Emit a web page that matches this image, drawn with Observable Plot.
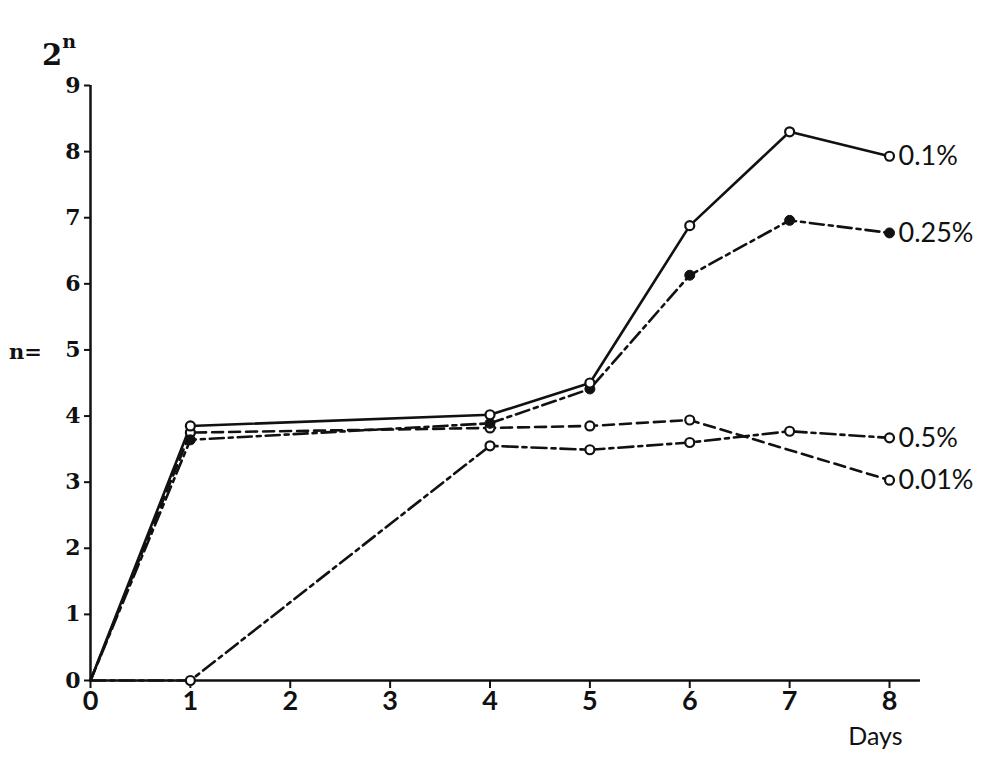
<!DOCTYPE html>
<html><head><meta charset="utf-8">
<script src="https://cdn.jsdelivr.net/npm/d3@7"></script>
<script src="https://cdn.jsdelivr.net/npm/@observablehq/plot@0.6"></script>
<style>body{margin:0;background:#fff}#c{position:absolute;left:0;top:0}</style>
</head><body><div id="c"></div>
<script>
const xTicks = [0,1,2,3,4,5,6,7,8];
const yTicks = [0,1,2,3,4,5,6,7,8,9];
const days01 = [0,1,4,5,6,7,8];
const vals01 = [0,3.85,4.02,4.5,6.88,8.3,7.93];
const days025 = [0,1,4,5,6,7,8];
const vals025 = [0,3.64,3.89,4.41,6.13,6.96,6.77];
const days001 = [0,1,4,5,6,8];
const vals001 = [0,3.75,3.82,3.85,3.94,3.03];
const days05 = [0,1,4,5,6,7,8];
const vals05 = [0,0,3.55,3.49,3.6,3.77,3.67];

const mk = (name, ds, vs) => ds.map((d,i)=>({series:name, day:d, n:vs[i]}));
const s01 = mk("0.1%", days01, vals01);
const s025 = mk("0.25%", days025, vals025);
const s001 = mk("0.01%", days001, vals001);
const s05 = mk("0.5%", days05, vals05);
const lastPts = [s01, s025, s05, s001].map(s => s[s.length-1]);

const serif = "'DejaVu Serif', 'Liberation Serif', serif";
const sans = "'Lato', 'DejaVu Sans', sans-serif";

const chart = Plot.plot({
  width: 986, height: 767,
  marginLeft: 90, marginRight: 97, marginTop: 85, marginBottom: 87,
  x: {domain: [0,8]},
  y: {domain: [0,9]},
  style: {background: "white"},
  marks: [
    Plot.ruleY([0], {x1: 0, x2: 8.31, stroke: "#111", strokeWidth: 2.5}),
    Plot.ruleX([0], {y1: 0, y2: 9, stroke: "#111", strokeWidth: 2.5}),
    Plot.axisY({ticks: yTicks, tickSize: 6, tickPadding: 4, fontSize: 22, fontFamily: serif, fontWeight: "bold", stroke: "#111", strokeWidth: 2, fill: "#111", label: null}),
    Plot.axisX({ticks: xTicks, tickSize: 8, tickPadding: 2, fontSize: 27, fontFamily: sans, fontWeight: "bold", fill: "#111", stroke: "#111", strokeWidth: 2, label: null}),
    Plot.line(s05, {x: "day", y: "n", stroke: "#111", strokeWidth: 2.6, strokeDasharray: "15,5,4,5"}),
    Plot.line(s001, {x: "day", y: "n", stroke: "#111", strokeWidth: 2.6, strokeDasharray: "11,6"}),
    Plot.line(s025, {x: "day", y: "n", stroke: "#111", strokeWidth: 2.6, strokeDasharray: "14,5,4,5"}),
    Plot.line(s01, {x: "day", y: "n", stroke: "#111", strokeWidth: 2.6}),
    Plot.dot(s05.filter(d=>d.day>0), {x: "day", y: "n", r: 4.5, fill: "white", stroke: "#111", strokeWidth: 2.2}),
    Plot.dot(s001.filter(d=>d.day>0), {x: "day", y: "n", r: 4.5, fill: "white", stroke: "#111", strokeWidth: 2.2}),
    Plot.dot(s025.filter(d=>d.day>0), {x: "day", y: "n", r: 5, fill: "#111", stroke: "#111", strokeWidth: 1}),
    Plot.dot(s01.filter(d=>d.day>0), {x: "day", y: "n", r: 4.5, fill: "white", stroke: "#111", strokeWidth: 2.2}),
    Plot.text(lastPts, {x: "day", y: "n", text: "series", dx: 9, textAnchor: "start", fontSize: 27, fontFamily: sans, fill: "#111"}),
    Plot.text(["Days"], {frameAnchor: "bottom-right", dx: 13, dy: 64, fontSize: 25, fontFamily: sans, fill: "#111"})
  ]
});
document.getElementById("c").appendChild(chart);

const svg = d3.select(chart);
const t = svg.append("text").attr("x", 42).attr("y", 65).attr("text-anchor", "start").attr("font-family", serif).attr("font-weight", "bold").attr("font-size", 29).attr("fill", "#111");
t.append("tspan").text("2");
t.append("tspan").attr("dy", -17).attr("font-size", 19).text("n");
svg.append("text").attr("x", 9).attr("y", 359).attr("text-anchor", "start").attr("font-family", serif).attr("font-weight", "bold").attr("font-size", 21).attr("fill", "#111").text("n=");
</script>
</body></html>
